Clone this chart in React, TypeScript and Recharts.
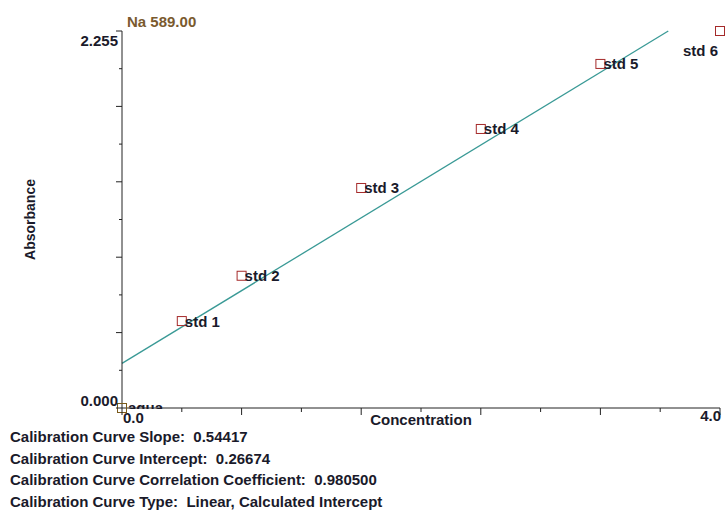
import { ComposedChart, Scatter, XAxis, YAxis, ReferenceLine, LabelList, Label } from 'recharts'

const FONT = '"Liberation Sans", Arial, sans-serif'
const INK = '#1a1a2a'

const stdNames = ['std 1', 'std 2', 'std 3', 'std 4', 'std 5', 'std 6']
const stdConc = [0.4, 0.8, 1.6, 2.4, 3.2, 4.0]
const stdAbs = [0.52, 0.791, 1.316, 1.669, 2.058, 2.255]

const blankName = ['aqua']
const blankConc = [0]
const blankAbs = [0]

// fit line end points (slope 0.54417, intercept 0.26674)
const fitConc = [0, 3.654]
const fitAbs = [0.26674, 2.255]

const xTicks = [0, 0.4, 0.8, 1.2, 1.6, 2.0, 2.4, 2.8, 3.2, 3.6, 4.0]
const yTicks = [0, 0.2255, 0.451, 0.6765, 0.902, 1.1275, 1.353, 1.5785, 1.804, 2.0295, 2.255]

const summary = [
  'Calibration Curve Slope:  0.54417',
  'Calibration Curve Intercept:  0.26674',
  'Calibration Curve Correlation Coefficient:  0.980500',
  'Calibration Curve Type:  Linear, Calculated Intercept',
]

const stdData = stdNames.map((name, i) => ({ name, conc: stdConc[i], abs: stdAbs[i] }))
const blankData = blankName.map((name, i) => ({ name, conc: blankConc[i], abs: blankAbs[i] }))

function Square(color: string) {
  return (props: any) => {
    const { cx, cy } = props
    return <rect x={cx - 4.5} y={cy - 4.5} width={9} height={9} fill="none" stroke={color} strokeWidth={1} />
  }
}

function XTick(props: any) {
  const { x, y, payload, index } = props
  const major = index % 2 === 0
  const v = payload.value
  return (
    <g>
      <line x1={x} y1={y} x2={x} y2={y + (major ? 7 : 4)} stroke="#222" strokeWidth={1} />
      {index === 0 && (
        <text x={x + 1} y={y + 15} fontFamily={FONT} fontWeight="bold" fontSize={15} fill={INK}>
          {v.toFixed(1)}
        </text>
      )}
      {index === xTicks.length - 1 && (
        <text x={x + 1} y={y + 13} textAnchor="end" fontFamily={FONT} fontWeight="bold" fontSize={15} fill={INK}>
          {v.toFixed(1)}
        </text>
      )}
    </g>
  )
}

function YTick(props: any) {
  const { x, y, payload, index } = props
  const major = index % 2 === 0
  const v = payload.value
  return (
    <g>
      <line x1={x} y1={y} x2={x - (major ? 6 : 3)} y2={y} stroke="#222" strokeWidth={1} />
      {index === 0 && (
        <text x={x - 4} y={y - 2} textAnchor="end" fontFamily={FONT} fontWeight="bold" fontSize={15} fill={INK}>
          {v.toFixed(3)}
        </text>
      )}
      {index === yTicks.length - 1 && (
        <text x={x - 4} y={y + 15} textAnchor="end" fontFamily={FONT} fontWeight="bold" fontSize={15} fill={INK}>
          {v.toFixed(3)}
        </text>
      )}
    </g>
  )
}

function StdLabel(props: any) {
  const { x, y, width, height, value } = props
  const cx = x + width / 2
  const cy = y + height / 2
  if (value === 'std 6') {
    return (
      <text x={cx - 2} y={cy + 25} textAnchor="end" fontFamily={FONT} fontWeight="bold" fontSize={15} fill={INK}>
        {value}
      </text>
    )
  }
  return (
    <text x={cx + 3} y={cy + 5.5} fontFamily={FONT} fontWeight="bold" fontSize={15} fill={INK}>
      {value}
    </text>
  )
}

function BlankLabel(props: any) {
  const { x, y, width, height, value } = props
  const cx = x + width / 2
  const cy = y + height / 2
  return (
    <g>
      <defs>
        <clipPath id="blankClip">
          <rect x={0} y={0} width={727} height={cy + 1} />
        </clipPath>
      </defs>
      <text x={cx + 6} y={cy + 5} clipPath="url(#blankClip)" fontFamily={FONT} fontWeight="bold" fontSize={15} fill={INK}>
        {value}
      </text>
    </g>
  )
}

export default function App() {
  return (
    <div style={{ position: 'absolute', left: 0, top: 0, width: 727, height: 515, background: '#fff', fontFamily: FONT }}>
      <ComposedChart width={727} height={515} margin={{ top: 31, right: 7, bottom: 0, left: 0 }}>
        <XAxis
          type="number"
          dataKey="conc"
          domain={[0, 4]}
          ticks={xTicks}
          interval={0}
          tickSize={0}
          tickMargin={0}
          tick={<XTick />}
          height={107}
          stroke="#222"
        >
          <Label
            value="Concentration"
            position="insideTop"
            offset={6}
            style={{ fontFamily: FONT, fontWeight: 'bold', fontSize: 15, fill: INK }}
          />
        </XAxis>
        <YAxis
          type="number"
          dataKey="abs"
          domain={[0, 2.255]}
          ticks={yTicks}
          interval={0}
          tickSize={0}
          tickMargin={0}
          tick={<YTick />}
          width={122}
          stroke="#222"
        >
          <Label
            value="Absorbance"
            angle={-90}
            position="insideLeft"
            offset={30}
            style={{ fontFamily: FONT, fontWeight: 'bold', fontSize: 14, fill: INK, textAnchor: 'middle' }}
          />
        </YAxis>
        <ReferenceLine
          segment={[
            { x: fitConc[0], y: fitAbs[0] },
            { x: fitConc[1], y: fitAbs[1] },
          ]}
          stroke="#3a9a96"
          strokeWidth={1.3}
          ifOverflow="visible"
        />
        <Scatter data={blankData} dataKey="abs" shape={Square('#7a5a1a')} isAnimationActive={false}>
          <LabelList dataKey="name" content={<BlankLabel />} />
        </Scatter>
        <Scatter data={stdData} dataKey="abs" shape={Square('#a52a2a')} isAnimationActive={false}>
          <LabelList dataKey="name" content={<StdLabel />} />
        </Scatter>
        <text x={127} y={27} fontFamily={FONT} fontWeight="bold" fontSize={15} fill="#7a5a2e">
          Na 589.00
        </text>
      </ComposedChart>
      {summary.map((s, i) => (
        <div
          key={i}
          style={{
            position: 'absolute',
            left: 10,
            top: 429 + i * 21.5,
            fontSize: 15,
            fontWeight: 'bold',
            color: INK,
            lineHeight: '16px',
            whiteSpace: 'pre',
          }}
        >
          {s}
        </div>
      ))}
    </div>
  )
}
